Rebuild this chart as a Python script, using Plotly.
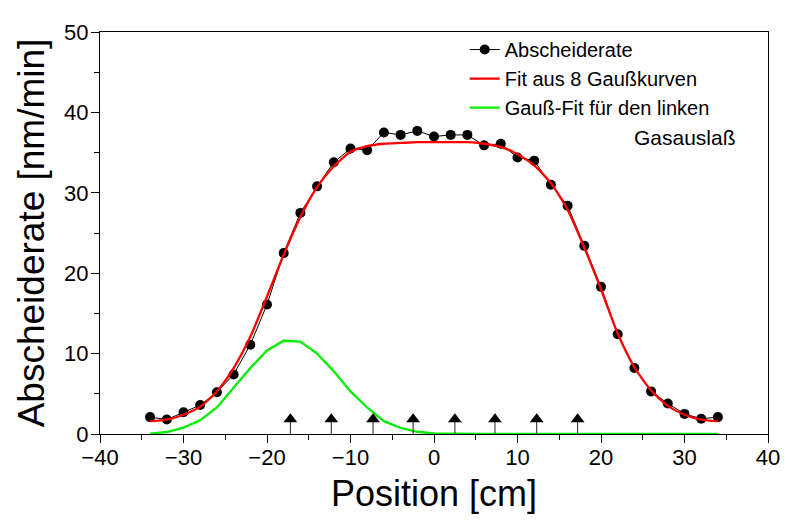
import plotly.graph_objects as go

# Position [cm]
positions = [-34, -32, -30, -28, -26, -24, -22, -20, -18, -16, -14, -12, -10, -8, -6, -4, -2, 0,
             2, 4, 6, 8, 10, 12, 14, 16, 18, 20, 22, 24, 26, 28, 30, 32, 34]
# measured deposition rate [nm/min]
abscheiderate = [2.1, 1.8, 2.7, 3.6, 5.2, 7.4, 11.1, 16.1, 22.5, 27.5, 30.8, 33.8, 35.5, 35.3, 37.5, 37.2, 37.7, 37.0,
                 37.2, 37.2, 35.9, 36.1, 34.4, 34.0, 31.0, 28.4, 23.4, 18.3, 12.4, 8.2, 5.3, 3.8, 2.5, 1.9, 2.1]
# fit from 8 Gaussians
fit_8 = [1.6, 1.8, 2.4, 3.4, 5.3, 8.2, 12.1, 17.1, 22.3, 27.0, 30.7, 33.3, 35.1, 35.8, 36.1, 36.2, 36.3, 36.3,
         36.3, 36.3, 36.1, 35.7, 34.8, 33.4, 31.2, 27.9, 23.2, 18.0, 12.5, 8.3, 5.4, 3.5, 2.4, 1.8, 1.6]
# single Gaussian for the left gas outlet
fit_left = [0.05, 0.25, 0.8, 1.7, 3.3, 5.7, 8.2, 10.4, 11.6, 11.5, 10.0, 7.8, 5.3, 3.3, 1.6, 0.75, 0.28, 0.07,
            0.02, 0, 0, 0, 0, 0, 0, 0, 0, 0, 0, 0, 0, 0, 0, 0, 0]
# gas outlet markers (arrows)
arrow_x = [-17.2, -12.3, -7.3, -2.5, 2.5, 7.3, 12.3, 17.2]
arrow_top = 1.85

FONT = "Liberation Sans, Arial, sans-serif"

# the page body adds an 8px offset; the figure is sized to fill the rest of the window
OFF = 8
W, H = 792 - OFF, 525 - OFF
PL, PR, PT, PB = 100 - OFF, 774 - OFF, 23 - OFF, 434 - OFF   # plot area in figure px
pw, ph = PR - PL, PB - PT


def px_x(p):
    return (p - OFF - PL) / pw


def px_y(p):
    return (PB - (p - OFF)) / ph


fig = go.Figure()
fig.add_trace(go.Scatter(x=positions, y=abscheiderate, mode="lines+markers", name="Abscheiderate",
                         line=dict(color="black", width=1),
                         marker=dict(color="black", size=10, symbol="circle")))
fig.add_trace(go.Scatter(x=positions, y=fit_8, mode="lines", name="Fit aus 8 Gaußkurven",
                         line=dict(color="#FF0000", width=2.3, shape="spline", smoothing=0.6)))
fig.add_trace(go.Scatter(x=positions, y=fit_left, mode="lines", name="Gauß-Fit für den linken",
                         line=dict(color="#00EE00", width=2.3)))

shaft_x, shaft_y = [], []
for a in arrow_x:
    shaft_x += [a, a, None]
    shaft_y += [0, arrow_top, None]
fig.add_trace(go.Scatter(x=shaft_x, y=shaft_y, mode="lines", showlegend=False, hoverinfo="skip",
                         line=dict(color="#222222", width=1)))
fig.add_trace(go.Scatter(x=arrow_x, y=[arrow_top] * len(arrow_x), mode="markers", showlegend=False,
                         marker=dict(symbol="triangle-up", size=12, color="black")))

axis_common = dict(showline=True, linecolor="black", linewidth=1.2, mirror=True,
                   ticks="outside", tickcolor="black", ticklen=8, tickwidth=1,
                   showgrid=False, zeroline=False,
                   tickfont=dict(family=FONT, size=22, color="black"))

fig.update_xaxes(range=[-40, 40], dtick=10, tick0=-40, ticklabelstandoff=-5,
                 minor=dict(ticks="outside", ticklen=5, dtick=5, tickcolor="black"),
                 title=dict(text="Position [cm]", font=dict(family=FONT, size=36, color="black"), standoff=12),
                 **axis_common)
fig.update_yaxes(range=[0, 50], dtick=10, tick0=0, ticklabelstandoff=-2,
                 minor=dict(ticks="outside", ticklen=5, dtick=5, tickcolor="black"),
                 title=dict(text="Abscheiderate [nm/min]", font=dict(family=FONT, size=37, color="black"), standoff=8),
                 **axis_common)

fig.add_annotation(text="Gasauslaß", xref="paper", yref="paper", x=px_x(744), y=px_y(131),
                   xanchor="right", yanchor="middle", showarrow=False,
                   font=dict(family=FONT, size=21, color="black"))

fig.update_layout(
    width=W, height=H,
    margin=dict(l=PL, r=W - PR, t=PT, b=H - PB),
    paper_bgcolor="white", plot_bgcolor="white",
    font=dict(family=FONT, color="black"),
    legend=dict(x=px_x(468), y=px_y(21), xanchor="left", yanchor="top",
                bgcolor="rgba(0,0,0,0)", borderwidth=0,
                font=dict(family=FONT, size=20, color="black"), tracegroupgap=0),
)

fig.write_html("out.html")
